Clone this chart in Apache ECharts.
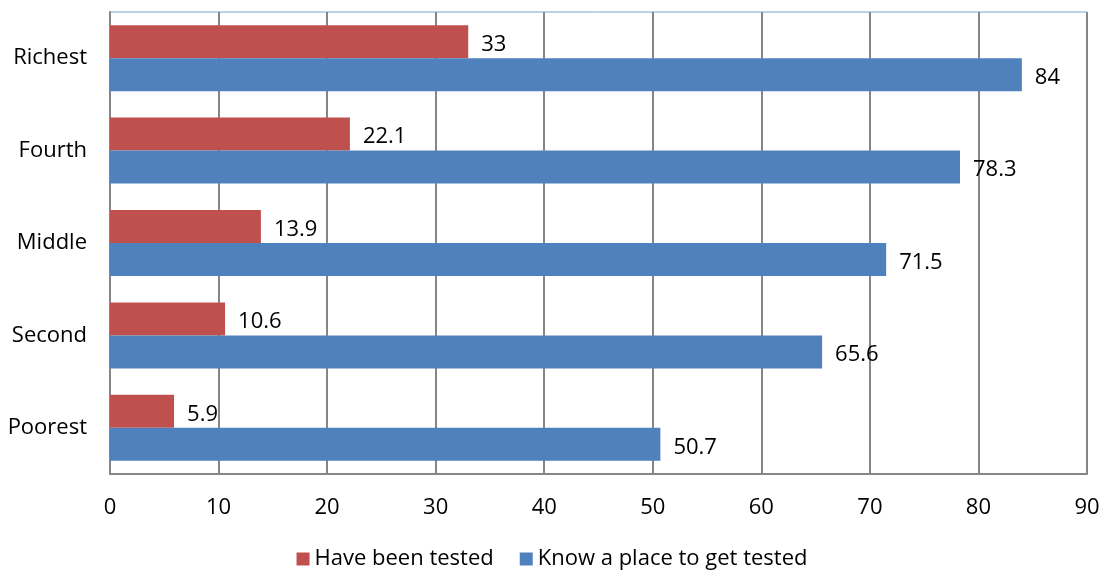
<!DOCTYPE html>
<html>
<head>
<meta charset="utf-8">
<script src="https://cdn.jsdelivr.net/npm/echarts@6/dist/echarts.min.js"></script>
<style>html,body{margin:0;padding:0;background:#fff;}#c{width:1104px;height:573px;}</style>
</head>
<body>
<div id="c"></div>
<script>
const categories = ['Poorest', 'Second', 'Middle', 'Fourth', 'Richest'];
const haveBeenTested = [5.9, 10.6, 13.9, 22.1, 33];
const knowPlace = [50.7, 65.6, 71.5, 78.3, 84];
const seriesNames = ['Have been tested', 'Know a place to get tested'];
const xTicks = { min: 0, max: 90, interval: 10 };

const FONT = '"Open Sans", Lato, sans-serif';
const FS = 22;
const chart = echarts.init(document.getElementById('c'), null, { renderer: 'canvas' });
const labelStyle = {
  show: true, position: 'right', distance: 13, offset: [0, 3],
  color: '#000', fontSize: FS, fontFamily: FONT
};
chart.setOption({
  animation: false,
  textStyle: { fontFamily: FONT },
  grid: {
    left: 110, right: 17, top: 12, bottom: 99, containLabel: false,
    show: true, borderColor: '#7fa3d0', borderWidth: 1
  },
  legend: {
    top: 543, left: 'center',
    data: seriesNames,
    icon: 'rect', itemWidth: 13, itemHeight: 13, itemGap: 26,
    textStyle: { fontSize: FS, color: '#000', fontFamily: FONT }
  },
  xAxis: {
    type: 'value', min: xTicks.min, max: xTicks.max, interval: xTicks.interval,
    axisLine: { show: true, lineStyle: { color: '#868686', width: 2 } },
    axisTick: { show: false },
    splitLine: { show: true, lineStyle: { color: '#868686', width: 2 } },
    axisLabel: { color: '#000', fontSize: FS, margin: 23, fontFamily: FONT }
  },
  yAxis: {
    type: 'category', data: categories,
    axisLine: { show: true, lineStyle: { color: '#868686', width: 2 } },
    axisTick: { show: false },
    axisLabel: { color: '#000', fontSize: FS, margin: 23, fontFamily: FONT }
  },
  series: [
    {
      name: seriesNames[0], type: 'bar', data: haveBeenTested,
      itemStyle: { color: '#C0504D' }, barGap: '0%', barCategoryGap: '28.6%',
      label: labelStyle
    },
    {
      name: seriesNames[1], type: 'bar', data: knowPlace,
      itemStyle: { color: '#4F81BD' }, barGap: '0%', barCategoryGap: '28.6%',
      label: labelStyle
    }
  ]
});
</script>
</body>
</html>
